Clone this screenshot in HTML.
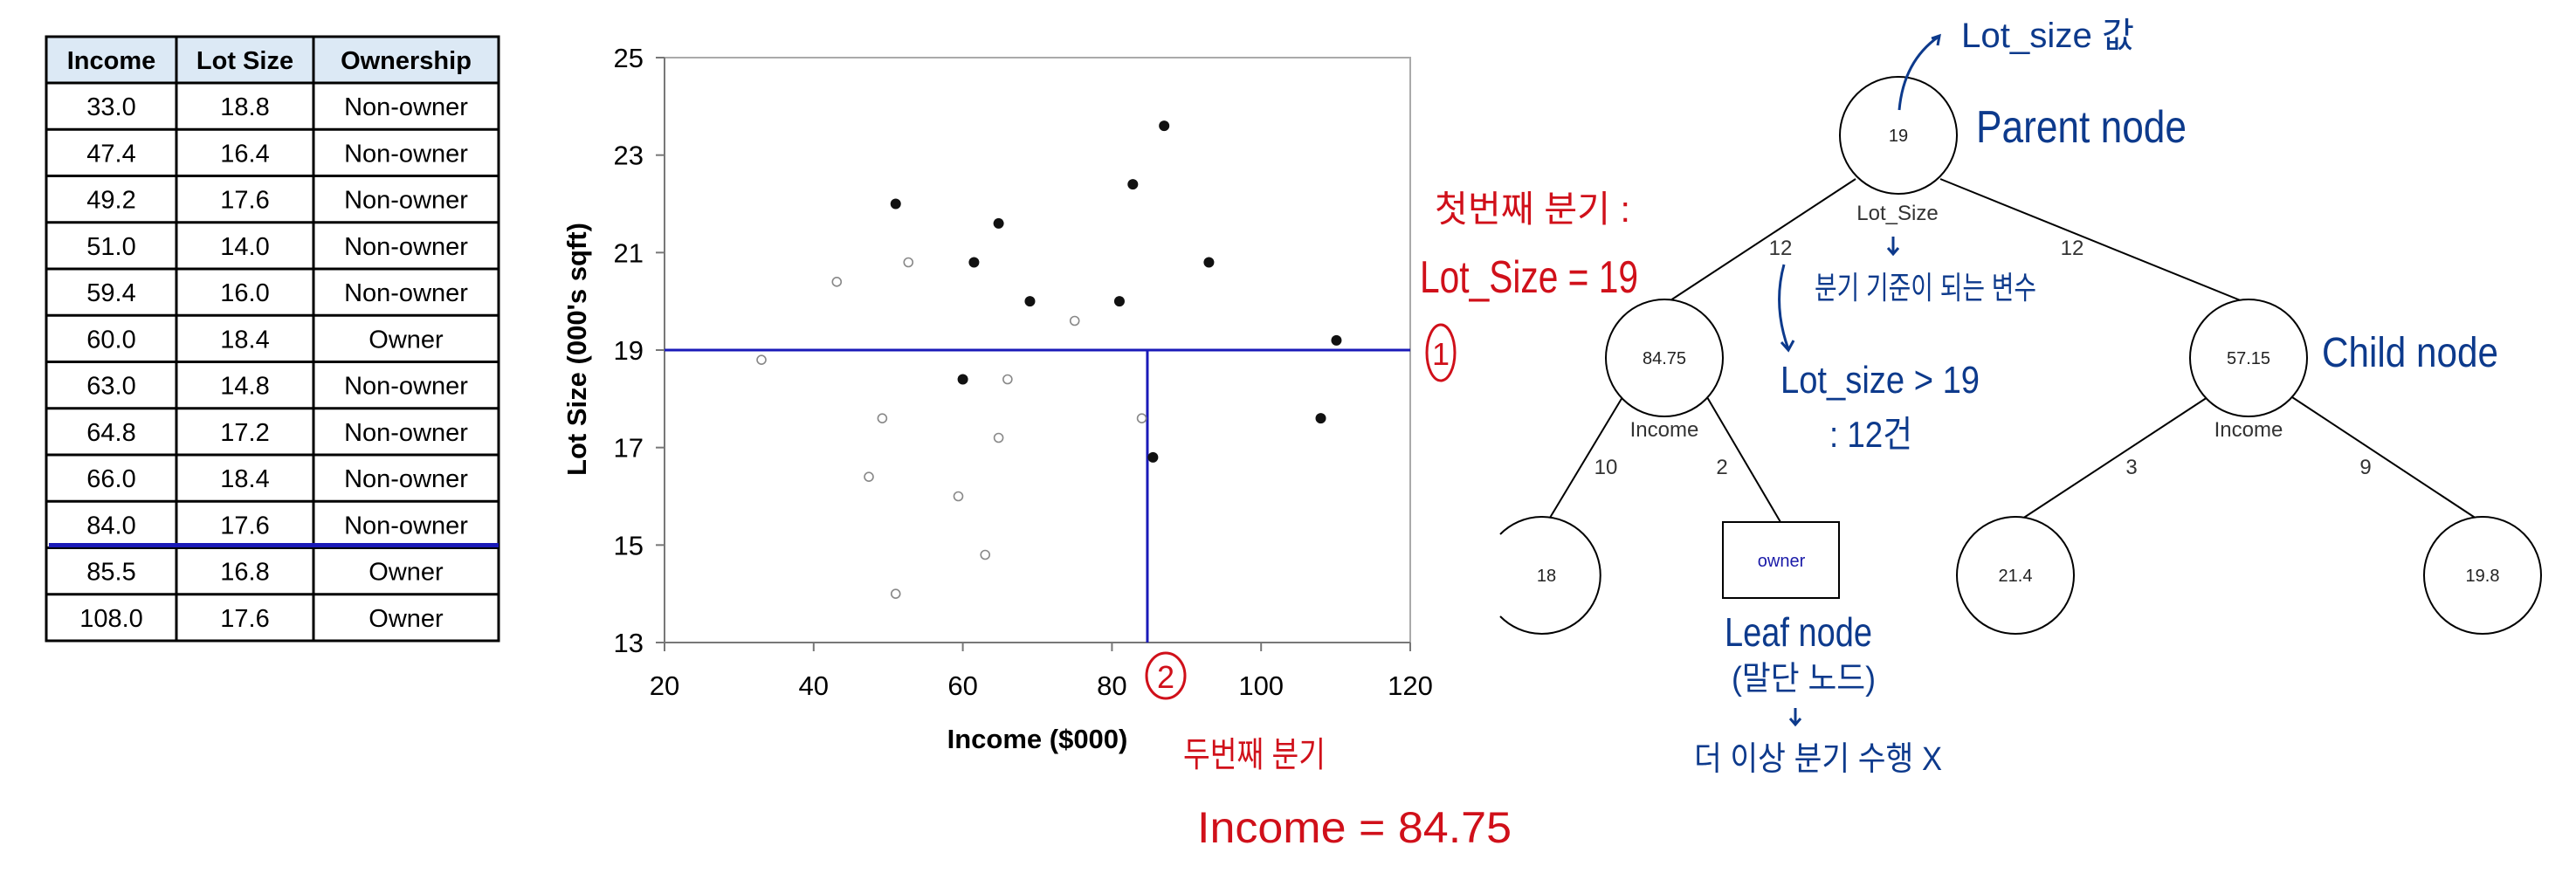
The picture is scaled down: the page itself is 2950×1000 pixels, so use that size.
<!DOCTYPE html>
<html><head><meta charset="utf-8"><style>
html,body{margin:0;padding:0;background:#fff;}
svg{display:block;}
</style></head><body>
<svg id="page" width="2950" height="1000" viewBox="0 0 2950 1000" xmlns="http://www.w3.org/2000/svg" font-family="Liberation Sans, Noto Sans CJK KR, sans-serif">
  <g id="table"></g>
  <g id="chart"></g>
  <g id="tree">
    <g stroke="#000" stroke-width="2" fill="none">
      <line x1="2125" y1="205" x2="1907" y2="348"/>
      <line x1="2222" y1="205" x2="2573" y2="347"/>
      <line x1="1858" y1="455" x2="1772" y2="598"/>
      <line x1="1955" y1="455" x2="2039" y2="598"/>
      <line x1="2528" y1="455" x2="2310" y2="598"/>
      <line x1="2625" y1="455" x2="2842" y2="598"/>
    </g>
    <g stroke="#000" stroke-width="2" fill="#fff">
      <circle cx="2174" cy="155" r="67"/>
      <circle cx="1906" cy="410" r="67"/>
      <circle cx="2575" cy="410" r="67"/>
      <path d="M1718 612 A67 67 0 1 1 1718 706"/>
      <rect x="1973" y="598" width="133" height="87"/>
      <circle cx="2308" cy="659" r="67"/>
      <circle cx="2843" cy="659" r="67"/>
    </g>
    <g font-size="20" fill="#222" text-anchor="middle">
      <text x="2174" y="162">19</text>
      <text x="1906" y="417">84.75</text>
      <text x="2575" y="417">57.15</text>
      <text x="1771" y="666">18</text>
      <text x="2040" y="649" fill="#1a1aa8">owner</text>
      <text x="2308" y="666">21.4</text>
      <text x="2843" y="666">19.8</text>
    </g>
    <g font-size="24" fill="#333" text-anchor="middle">
      <text x="2173" y="252">Lot_Size</text>
      <text x="1906" y="500">Income</text>
      <text x="2575" y="500">Income</text>
      <text x="2039" y="292">12</text>
      <text x="2373" y="292">12</text>
      <text x="1839" y="543">10</text>
      <text x="1972" y="543">2</text>
      <text x="2441" y="543">3</text>
      <text x="2709" y="543">9</text>
    </g>
  </g>
  <g id="annotations">
    <g fill="#d0101a">
      <text x="1643" y="254" font-size="42" textLength="224" lengthAdjust="spacingAndGlyphs">첫번째 분기 :</text>
      <text x="1626" y="335" font-size="52" textLength="250" lengthAdjust="spacingAndGlyphs">Lot_Size = 19</text>
      <text x="1355" y="878" font-size="40" textLength="163" lengthAdjust="spacingAndGlyphs">두번째 분기</text>
      <text x="1371" y="965" font-size="50" textLength="360" lengthAdjust="spacingAndGlyphs">Income = 84.75</text>
    </g>
    <g fill="none" stroke="#d0101a" stroke-width="3">
      <ellipse cx="1650" cy="404" rx="16" ry="32"/>
      <ellipse cx="1335" cy="774" rx="22" ry="26"/>
    </g>
    <text x="1650" y="418" font-size="36" fill="#d0101a" text-anchor="middle">1</text>
    <text x="1335" y="788" font-size="36" fill="#d0101a" text-anchor="middle">2</text>
    <g fill="#0d3a8c">
      <text x="2246" y="54" font-size="40" textLength="198" lengthAdjust="spacingAndGlyphs">Lot_size 값</text>
      <text x="2263" y="163" font-size="52" textLength="241" lengthAdjust="spacingAndGlyphs">Parent node</text>
      <text x="2078" y="342" font-size="36" textLength="254" lengthAdjust="spacingAndGlyphs">분기 기준이 되는 변수</text>
      <text x="2039" y="450" font-size="44" textLength="228" lengthAdjust="spacingAndGlyphs">Lot_size &gt; 19</text>
      <text x="2095" y="512" font-size="42" textLength="95" lengthAdjust="spacingAndGlyphs">: 12건</text>
      <text x="2659" y="420" font-size="48" textLength="202" lengthAdjust="spacingAndGlyphs">Child node</text>
      <text x="1975" y="740" font-size="46" textLength="169" lengthAdjust="spacingAndGlyphs">Leaf node</text>
      <text x="1983" y="790" font-size="38" textLength="165" lengthAdjust="spacingAndGlyphs">(말단 노드)</text>
      <text x="1940" y="882" font-size="38" textLength="284" lengthAdjust="spacingAndGlyphs">더 이상 분기 수행 X</text>
    </g>
    <g fill="none" stroke="#0d3a8c" stroke-width="3">
      <path d="M2175 126 Q2180 70 2220 42"/>
      <path d="M2212 44 L2221 41 L2219 52"/>
      <path d="M2168 271 L2168 291 M2162 284 L2168 291 L2174 284"/>
      <path d="M2043 303 Q2030 350 2048 400 M2040 392 L2048 401 L2054 390"/>
      <path d="M2056 811 L2056 830 M2050 823 L2056 830 L2062 823"/>
    </g>
  </g>
</svg>
<script>
// ---- table ----
var headers = ["Income","Lot Size","Ownership"];
var incomeCol = ["33.0","47.4","49.2","51.0","59.4","60.0","63.0","64.8","66.0","84.0","85.5","108.0"];
var lotCol = ["18.8","16.4","17.6","14.0","16.0","18.4","14.8","17.2","18.4","17.6","16.8","17.6"];
var ownCol = ["Non-owner","Non-owner","Non-owner","Non-owner","Non-owner","Owner","Non-owner","Non-owner","Non-owner","Non-owner","Owner","Owner"];

// ---- chart ----
var ownerIncome = [51.0,64.8,61.5,69.0,81.0,82.8,87.0,93.0,110.1,60.0,85.5,108.0];
var ownerLot = [22.0,21.6,20.8,20.0,20.0,22.4,23.6,20.8,19.2,18.4,16.8,17.6];
var nonIncome = [43.1,52.7,75.0,33.0,66.0,49.2,84.0,64.8,47.4,59.4,63.0,51.0];
var nonLot = [20.4,20.8,19.6,18.8,18.4,17.6,17.6,17.2,16.4,16.0,14.8,14.0];
var xTicks = [20,40,60,80,100,120];
var yTicks = [13,15,17,19,21,23,25];
var splitLot = [19];
var splitIncome = [84.75];

var NS = "http://www.w3.org/2000/svg";
function mk(tag, attrs, parent, txt){
  var e = document.createElementNS(NS, tag);
  for (var k in attrs) e.setAttribute(k, attrs[k]);
  if (txt !== undefined) e.textContent = txt;
  parent.appendChild(e);
  return e;
}

(function(){
  var g = document.getElementById('table');
  var colX = [53,202,359,571];
  var top = 42, headH = 53, rowH = 53.25;
  var hb = mk('rect',{x:53,y:top,width:518,height:headH,fill:'#dce9f5'},g);
  
  
  var bottom = top + headH + rowH*12;
  for (var i=0;i<headers.length;i++){
    var t = mk('text',{x:(colX[i]+colX[i+1])/2,y:top+37,'text-anchor':'middle','font-size':29,'font-weight':'bold',fill:'#000'},g,headers[i]);
    
    
  }
  var cols = [incomeCol, lotCol, ownCol];
  for (var r=0;r<12;r++){
    var y = top+headH+rowH*r;
    for (var c=0;c<3;c++){
      var t2 = mk('text',{x:(colX[c]+colX[c+1])/2,y:y+37,'text-anchor':'middle','font-size':29,fill:'#000'},g,cols[c][r]);
      
      
    }
    mk('line',{x1:53,x2:571,y1:y,y2:y,stroke:'#000','stroke-width':3},g);
  }
  mk('rect',{x:53,y:top,width:518,height:bottom-top,fill:'none',stroke:'#000','stroke-width':3},g);
  for (var j=1;j<3;j++) mk('line',{x1:colX[j],x2:colX[j],y1:top,y2:bottom,stroke:'#000','stroke-width':3},g);
  var bl = mk('line',{x1:56,x2:571,y1:top+headH+rowH*10-3,y2:top+headH+rowH*10-3,stroke:'#1a1ab8','stroke-width':5},g);
  
  
})();

(function(){
  var g = document.getElementById('chart');
  var L=761, R=1615, T=66, B=736;
  function sx(v){ return L + (v-20)/100*(R-L); }
  function sy(v){ return B - (v-13)/12*(B-T); }
  var fr = mk('rect',{x:L,y:T,width:R-L,height:B-T,fill:'#fff',stroke:'#aaa','stroke-width':2},g);
  
  
  mk('line',{x1:L,x2:L,y1:T,y2:B,stroke:'#777','stroke-width':2},g);
  mk('line',{x1:L,x2:R,y1:B,y2:B,stroke:'#777','stroke-width':2},g);
  yTicks.forEach(function(v){
    mk('line',{x1:L-10,x2:L,y1:sy(v),y2:sy(v),stroke:'#777','stroke-width':2},g);
    var t = mk('text',{x:L-24,y:sy(v)+11,'text-anchor':'end','font-size':31,fill:'#000'},g,String(v));
    
    
  });
  xTicks.forEach(function(v){
    mk('line',{x1:sx(v),x2:sx(v),y1:B,y2:B+10,stroke:'#777','stroke-width':2},g);
    var t = mk('text',{x:sx(v),y:796,'text-anchor':'middle','font-size':31,fill:'#000'},g,String(v));
    
    
  });
  var xt = mk('text',{x:1188,y:857,'text-anchor':'middle','font-size':31,'font-weight':'bold',fill:'#000'},g,'Income ($000)');
  
  
  var yt = mk('text',{x:0,y:0,'text-anchor':'middle','font-size':31,'font-weight':'bold',fill:'#000',transform:'translate(671,400) rotate(-90)'},g,"Lot Size (000's sqft)");
  
  
  var hl = mk('line',{x1:L,x2:R,y1:sy(splitLot[0]),y2:sy(splitLot[0]),stroke:'#1a1ab8','stroke-width':3},g);
  
  
  var vl = mk('line',{x1:sx(splitIncome[0]),x2:sx(splitIncome[0]),y1:sy(splitLot[0]),y2:B,stroke:'#1a1ab8','stroke-width':3},g);
  
  
  for (var i=0;i<nonIncome.length;i++){
    var c = mk('circle',{cx:sx(nonIncome[i]),cy:sy(nonLot[i]),r:5,fill:'#fff',stroke:'#888','stroke-width':1.6},g);
    
    
  }
  for (var k=0;k<ownerIncome.length;k++){
    var c2 = mk('circle',{cx:sx(ownerIncome[k]),cy:sy(ownerLot[k]),r:6,fill:'#111'},g);
    
    
  }
})();
</script>
</body></html>
